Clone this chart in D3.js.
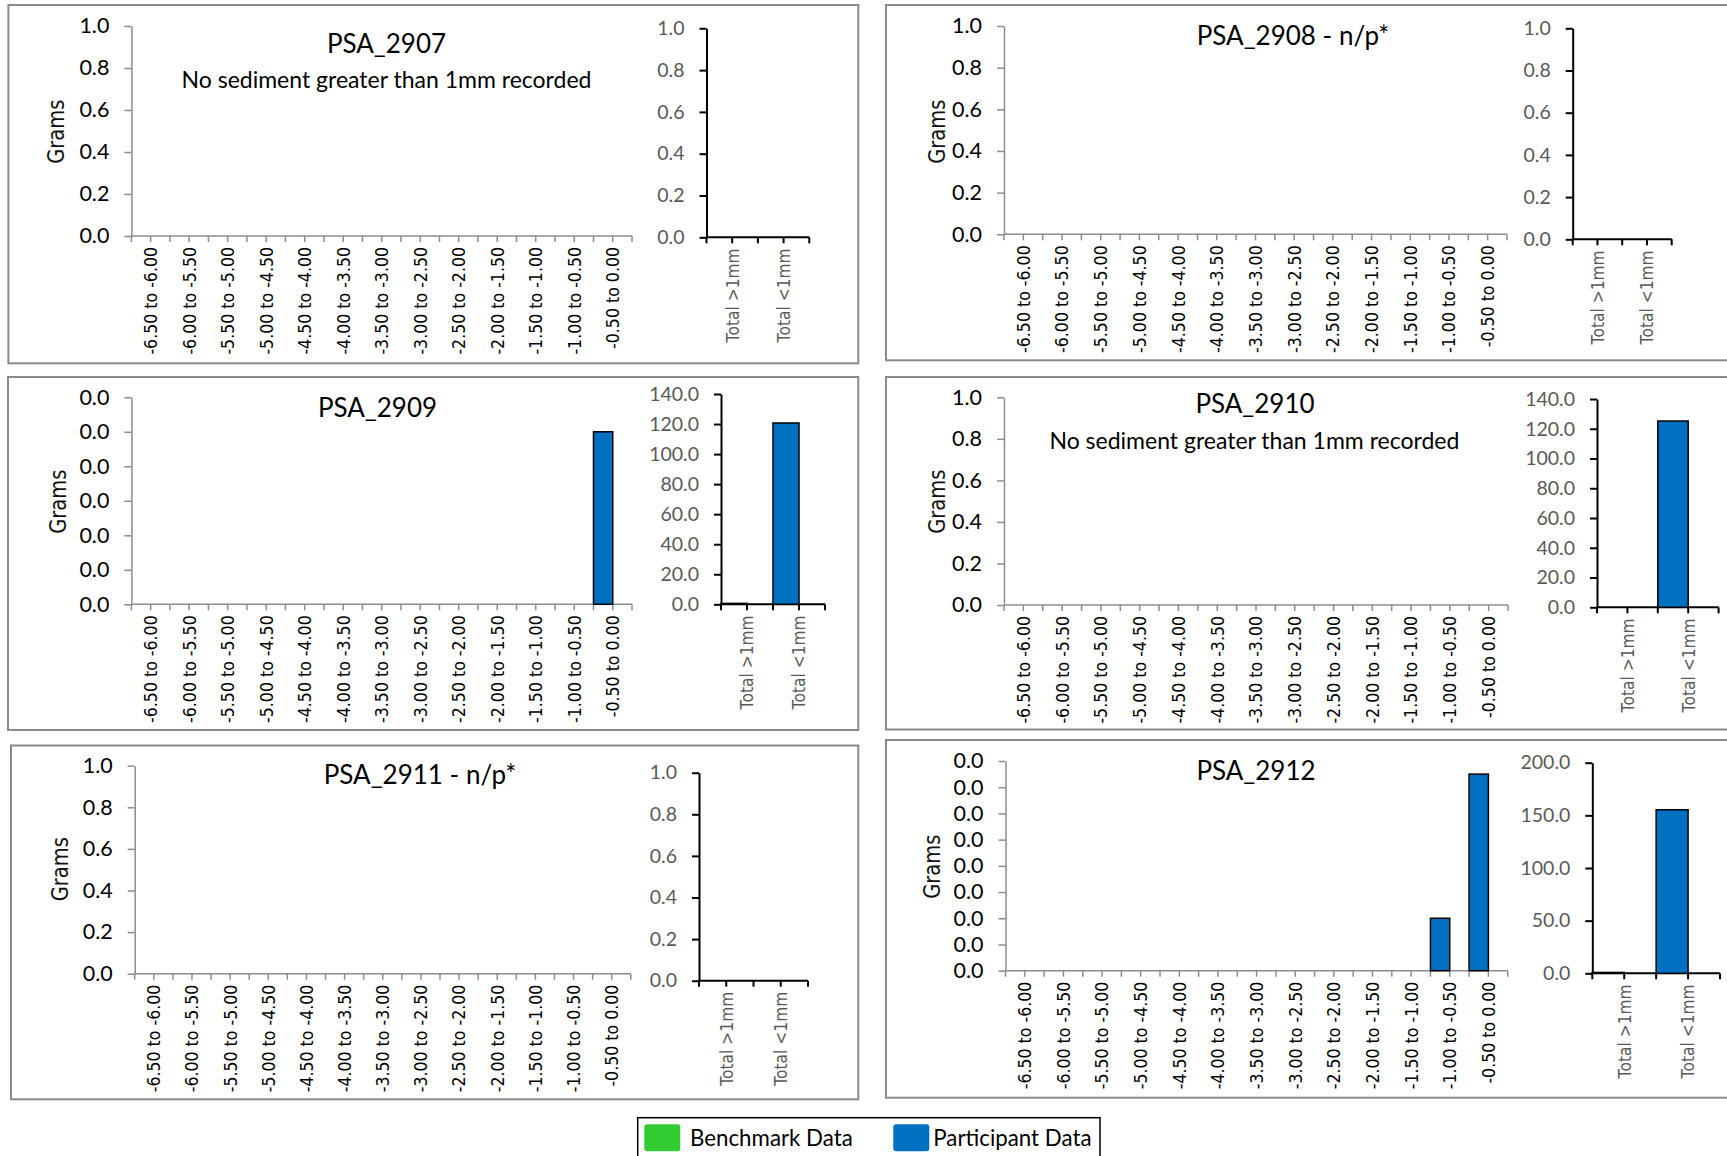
<!DOCTYPE html>
<html>
<head>
<meta charset="utf-8">
<script src="https://cdn.jsdelivr.net/npm/d3@7/dist/d3.min.js"></script>
<style>
  body { margin: 0; background: #fff; }
  svg { display: block; }
</style>
</head>
<body>
<svg id="chart" width="1727" height="1156"></svg>
<script>

// ---- data ----
const categories = ["-6.50 to -6.00", "-6.00 to -5.50", "-5.50 to -5.00", "-5.00 to -4.50",
    "-4.50 to -4.00", "-4.00 to -3.50", "-3.50 to -3.00", "-3.00 to -2.50", "-2.50 to -2.00",
    "-2.00 to -1.50", "-1.50 to -1.00", "-1.00 to -0.50", "-0.50 to 0.00"];
const totalCategories = ["Total >1mm", "Total <1mm"];

const sampleTitles = ["PSA_2907", "PSA_2908 - n/p*", "PSA_2909", "PSA_2910", "PSA_2911 - n/p*", "PSA_2912"];
const sampleNotes = ["No sediment greater than 1mm recorded", "", "", "No sediment greater than 1mm recorded", "", ""];

// participant grams per fraction
const participant2907 = [0, 0, 0, 0, 0, 0, 0, 0, 0, 0, 0, 0, 0];
const participant2908 = [0, 0, 0, 0, 0, 0, 0, 0, 0, 0, 0, 0, 0];
const participant2909 = [0, 0, 0, 0, 0, 0, 0, 0, 0, 0, 0, 0, 0.005];
const participant2910 = [0, 0, 0, 0, 0, 0, 0, 0, 0, 0, 0, 0, 0];
const participant2911 = [0, 0, 0, 0, 0, 0, 0, 0, 0, 0, 0, 0, 0];
const participant2912 = [0, 0, 0, 0, 0, 0, 0, 0, 0, 0, 0, 0.01, 0.0375];

// benchmark grams per fraction (nothing shown)
const benchmark2907 = [0, 0, 0, 0, 0, 0, 0, 0, 0, 0, 0, 0, 0];
const benchmark2908 = [0, 0, 0, 0, 0, 0, 0, 0, 0, 0, 0, 0, 0];
const benchmark2909 = [0, 0, 0, 0, 0, 0, 0, 0, 0, 0, 0, 0, 0];
const benchmark2910 = [0, 0, 0, 0, 0, 0, 0, 0, 0, 0, 0, 0, 0];
const benchmark2911 = [0, 0, 0, 0, 0, 0, 0, 0, 0, 0, 0, 0, 0];
const benchmark2912 = [0, 0, 0, 0, 0, 0, 0, 0, 0, 0, 0, 0, 0];

// totals [>1mm, <1mm]
const totals2907 = [0, 0];
const totals2908 = [0, 0];
const totals2909 = [0.6, 120.7];
const totals2910 = [0, 125.2];
const totals2911 = [0, 0];
const totals2912 = [0.8, 155.3];
const benchmarkTotals = [0, 0];

// axis settings
const mainAxisMax = [1, 1, 0.006, 1, 1, 0.04];
const mainAxisStep = [0.2, 0.2, 0.001, 0.2, 0.2, 0.005];
const totalAxisMax = [1, 1, 140, 140, 1, 200];
const totalAxisStep = [0.2, 0.2, 20, 20, 0.2, 50];

const legendLabels = ["Benchmark Data", "Participant Data"];
const legendColors = ["#33CC33", "#0070C0"];

const participantSeries = [participant2907, participant2908, participant2909, participant2910, participant2911, participant2912];
const benchmarkSeries = [benchmark2907, benchmark2908, benchmark2909, benchmark2910, benchmark2911, benchmark2912];
const totalSeries = [totals2907, totals2908, totals2909, totals2910, totals2911, totals2912];

// ---- layout (pixels) ----
// box: [left, top, right, bottom]; main/total: [x0, x1, yTop, yBottom]
const panels = [
    {box: [8.4, 5, 858.3, 363.3], main: [131.4, 632, 26, 236], total: [706.5, 809.3, 28.3, 237.3],
     title: [386.5, 53.3], note: [386.5, 88.3], grams: [56.3, 131.7]},
    {box: [886, 5, 1745, 360.3], main: [1004, 1507, 26, 234.3], total: [1572.7, 1671.7, 28.3, 239.3],
     title: [1293, 45], note: null, grams: [937, 131.7]},
    {box: [8, 377, 858.3, 730], main: [131.4, 632, 397.3, 604.3], total: [721, 825, 394, 604.3],
     title: [377.5, 416.7], note: null, grams: [57.6, 501.7]},
    {box: [886, 377, 1745, 729.5], main: [1004, 1508, 397.3, 605], total: [1597, 1718.6, 399, 607.3],
     title: [1255, 413.3], note: [1254.4, 449.3], grams: [937, 501.7]},
    {box: [11, 745.5, 858.3, 1099.3], main: [134.7, 630.8, 765.7, 973.7], total: [699, 808, 772.7, 980.7],
     title: [420, 784.3], note: null, grams: [59.6, 869.2]},
    {box: [886, 740, 1745, 1097.7], main: [1005.5, 1507.7, 761, 970.7], total: [1592.3, 1720, 762.7, 973.3],
     title: [1256, 780], note: null, grams: [931.5, 866.7]}
];

const numFont = "Lato, 'Open Sans', sans-serif";
const catFont = "'DejaVu Sans', Verdana, sans-serif";

const svg = d3.select("#chart");
svg.append("rect").attr("width", 1727).attr("height", 1156).attr("fill", "#ffffff");

const fmt = d3.format(".1f");

const drawBars = function(g, cats, values, bench, max, step, frame, style) {
    const [x0, x1, yTop, yBot] = frame;

    const x = d3.scaleBand().domain(cats).range([x0, x1]).padding(0);
    const y = d3.scaleLinear().domain([0, max]).range([yBot, yTop]);
    const half = x.bandwidth() / 2;

    // y axis
    const yAxis = g.append("g")
        .attr("transform", `translate(${x0},0)`)
        .call(d3.axisLeft(y)
            .tickValues(d3.range(0, max + step / 2, step))
            .tickFormat(fmt)
            .tickSize(7)
            .tickSizeOuter(0)
            .tickPadding(15));
    yAxis.select(".domain").attr("stroke", style.axisColor).attr("stroke-width", style.axisWidth);
    yAxis.selectAll(".tick line").attr("stroke", style.axisColor).attr("stroke-width", style.axisWidth);
    yAxis.selectAll(".tick text")
        .attr("font-family", numFont)
        .attr("font-size", style.tickFont)
        .attr("fill", style.tickColor);

    // x axis line + ticks at band edges and band middles
    g.append("line")
        .attr("x1", x0).attr("x2", x1)
        .attr("y1", yBot).attr("y2", yBot)
        .attr("stroke", style.axisColor).attr("stroke-width", style.axisWidth);

    const tickPos = cats.flatMap(c => [x(c), x(c) + half]).concat([x1]);
    g.selectAll(null)
        .data(tickPos)
        .enter()
        .append("line")
        .attr("x1", d => d).attr("x2", d => d)
        .attr("y1", yBot).attr("y2", yBot + 6)
        .attr("stroke", style.axisColor).attr("stroke-width", style.axisWidth);

    // category labels
    g.selectAll(null)
        .data(cats)
        .enter()
        .append("text")
        .attr("transform", c => `translate(${x(c) + half},${yBot + 11}) rotate(-90) scale(1,1.15)`)
        .attr("text-anchor", "end")
        .attr("dominant-baseline", "central")
        .attr("font-family", catFont)
        .attr("font-size", style.labelFont)
        .attr("fill", style.labelColor)
        .text(c => c);

    // bars (participant in the left half, benchmark in the right half)
    const rows = cats.map((c, k) => ({c: c, p: values[k], b: bench[k]}));

    g.selectAll(null)
        .data(rows.filter(d => d.b > 0))
        .enter()
        .append("rect")
        .attr("x", d => x(d.c) + half)
        .attr("y", d => y(d.b))
        .attr("width", half)
        .attr("height", d => yBot - y(d.b))
        .attr("fill", legendColors[0])
        .attr("stroke", "#000").attr("stroke-width", 1.5);

    g.selectAll(null)
        .data(rows.filter(d => d.p > 0))
        .enter()
        .append("rect")
        .attr("x", d => x(d.c))
        .attr("y", d => y(d.p))
        .attr("width", half)
        .attr("height", d => yBot - y(d.p))
        .attr("fill", legendColors[1])
        .attr("stroke", "#000").attr("stroke-width", 1.5);
};

panels.forEach(function(p, i) {
    const g = svg.append("g");

    g.append("rect")
        .attr("x", p.box[0]).attr("y", p.box[1])
        .attr("width", p.box[2] - p.box[0]).attr("height", p.box[3] - p.box[1])
        .attr("fill", "#fff")
        .attr("stroke", "#8a8a8a").attr("stroke-width", 2);

    drawBars(g, categories, participantSeries[i], benchmarkSeries[i], mainAxisMax[i], mainAxisStep[i], p.main,
        {axisColor: "#8c8c8c", axisWidth: 1.5, tickFont: 21.5, tickColor: "#000",
         labelFont: 15.8, labelColor: "#000"});

    drawBars(g, totalCategories, totalSeries[i], benchmarkTotals, totalAxisMax[i], totalAxisStep[i], p.total,
        {axisColor: "#000", axisWidth: 2, tickFont: 19.5, tickColor: "#595959",
         labelFont: 15.5, labelColor: "#595959"});

    g.append("text")
        .attr("x", p.title[0]).attr("y", p.title[1])
        .attr("text-anchor", "middle")
        .attr("font-family", numFont)
        .attr("font-size", 26)
        .attr("fill", "#000")
        .text(sampleTitles[i]);

    if (p.note && sampleNotes[i]) {
        g.append("text")
            .attr("x", p.note[0]).attr("y", p.note[1])
            .attr("text-anchor", "middle")
            .attr("font-family", numFont)
            .attr("font-size", 23)
            .attr("fill", "#000")
            .text(sampleNotes[i]);
    }

    g.append("text")
        .attr("transform", `translate(${p.grams[0]},${p.grams[1]}) rotate(-90) scale(1,1.15)`)
        .attr("text-anchor", "middle")
        .attr("dominant-baseline", "central")
        .attr("font-family", catFont)
        .attr("font-size", 19.5)
        .attr("fill", "#111")
        .text("Grams");
});

// legend
const legend = svg.append("g");
legend.append("rect")
    .attr("x", 637.7).attr("y", 1117.7)
    .attr("width", 462.3).attr("height", 60)
    .attr("fill", "#fff")
    .attr("stroke", "#000").attr("stroke-width", 1.5);

const swatchX = [644.3, 893.3];
const legendTextX = [690, 933.3];
legend.selectAll(null)
    .data(legendLabels)
    .enter()
    .append("rect")
    .attr("x", (d, k) => swatchX[k])
    .attr("y", 1124.3)
    .attr("width", 36).attr("height", 27)
    .attr("rx", 3)
    .attr("fill", (d, k) => legendColors[k]);

legend.selectAll(null)
    .data(legendLabels)
    .enter()
    .append("text")
    .attr("x", (d, k) => legendTextX[k])
    .attr("y", 1145.7)
    .attr("font-family", numFont)
    .attr("font-size", 22.3)
    .attr("fill", "#000")
    .text(d => d);

</script>
</body>
</html>
